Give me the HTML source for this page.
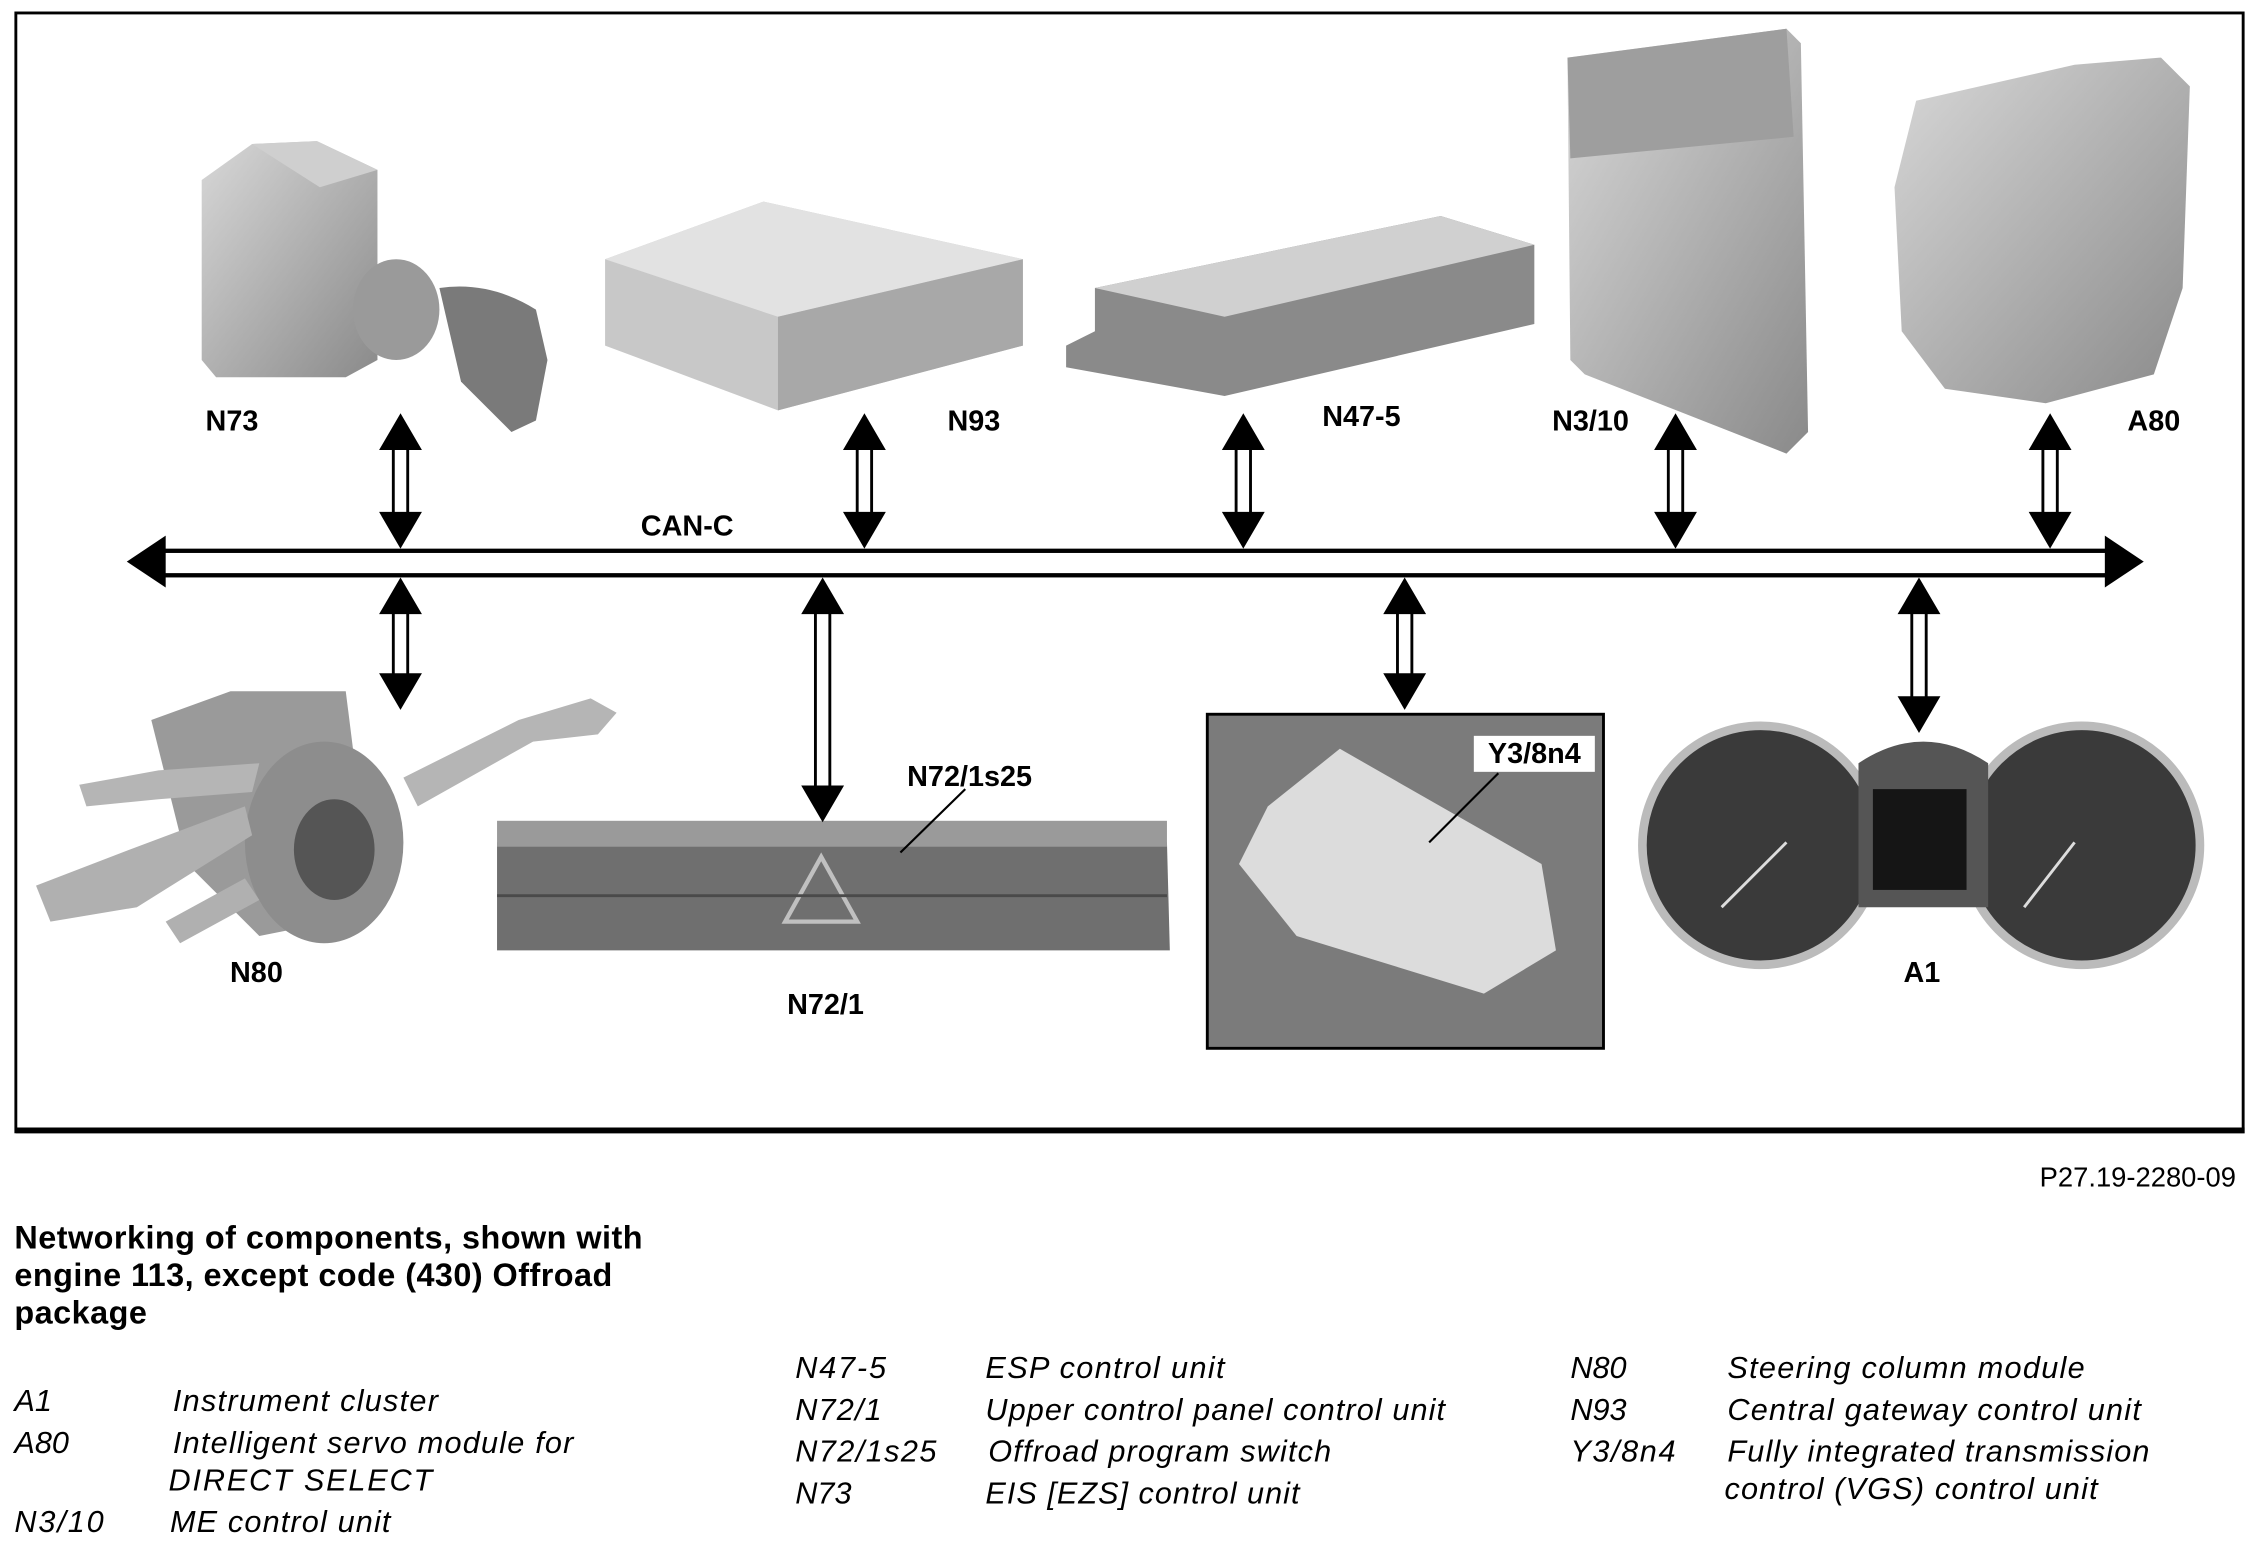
<!DOCTYPE html>
<html><head><meta charset="utf-8"><style>
html,body{margin:0;padding:0;background:#fff;}
svg{display:block;}
.b{font-family:"Liberation Sans",sans-serif;font-weight:bold;font-size:20px;fill:#000;}
.i{font-family:"Liberation Sans",sans-serif;font-style:italic;font-size:21.3px;fill:#000;}
.t{font-family:"Liberation Sans",sans-serif;font-weight:bold;font-size:22.5px;fill:#000;}
</style></head><body>
<svg width="2259" height="1548" viewBox="0 0 1568 1075" preserveAspectRatio="none" xmlns="http://www.w3.org/2000/svg">
<defs>
<linearGradient id="g1" x1="0" y1="0" x2="1" y2="1"><stop offset="0" stop-color="#d8d8d8"/><stop offset="1" stop-color="#8a8a8a"/></linearGradient>
</defs>
<rect x="11" y="9" width="1546" height="777" fill="none" stroke="#000" stroke-width="2"/>
<line x1="11" y1="785" x2="1558" y2="785" stroke="#000" stroke-width="4"/>

<!-- N73 -->
<path d="M140 125 L175 100 L220 98 L262 118 L262 250 L240 262 L150 262 L140 250 Z" fill="url(#g1)"/>
<path d="M175 100 L220 98 L262 118 L222 130 Z" fill="#cfcfcf"/>
<ellipse cx="275" cy="215" rx="30" ry="35" fill="#9a9a9a"/>
<path d="M305 200 Q340 195 372 215 L380 250 L372 292 L355 300 L320 265 Z" fill="#7a7a7a"/>
<!-- N93 -->
<path d="M420 180 L530 140 L710 180 L710 240 L540 285 L420 240 Z" fill="#c8c8c8"/>
<path d="M420 180 L540 220 L710 180 L530 140 Z" fill="#e2e2e2"/>
<path d="M540 220 L540 285 L710 240 L710 180 Z" fill="#a8a8a8"/>
<!-- N47-5 -->
<path d="M760 200 L1000 150 L1065 170 L1065 225 L850 275 L740 255 L740 240 L760 230 Z" fill="#8a8a8a"/>
<path d="M760 200 L1000 150 L1065 170 L850 220 Z" fill="#d0d0d0"/>
<!-- N3/10 -->
<path d="M1088 40 L1240 20 L1250 30 L1255 300 L1240 315 L1100 260 L1090 250 Z" fill="url(#g1)"/>
<path d="M1088 40 L1240 20 L1245 95 L1090 110 Z" fill="#9e9e9e"/>
<!-- A80 -->
<path d="M1330 70 L1440 45 L1500 40 L1520 60 L1515 200 L1495 260 L1420 280 L1350 270 L1320 230 L1315 130 Z" fill="url(#g1)"/>
<!-- N80 -->
<path d="M105 500 L160 480 L240 480 L250 560 L230 640 L180 650 L130 600 Z" fill="#9a9a9a"/>
<ellipse cx="225" cy="585" rx="55" ry="70" fill="#8d8d8d"/>
<ellipse cx="232" cy="590" rx="28" ry="35" fill="#555"/>
<path d="M280 540 L360 500 L410 485 L428 495 L415 510 L370 515 L290 560 Z" fill="#b5b5b5"/>
<path d="M55 545 L110 535 L180 530 L175 550 L110 555 L60 560 Z" fill="#b5b5b5"/>
<path d="M25 615 L90 590 L170 560 L175 580 L95 630 L35 640 Z" fill="#b0b0b0"/>
<path d="M115 640 L170 610 L180 625 L125 655 Z" fill="#b0b0b0"/>
<!-- N72/1 -->
<path d="M345 585 L810 585 L812 660 L345 660 Z" fill="#6f6f6f"/>
<rect x="345" y="570" width="465" height="18" fill="#9a9a9a"/>
<path d="M545 640 L570 595 L595 640 Z" fill="none" stroke="#c0c0c0" stroke-width="3"/>
<path d="M345 622 L810 622" stroke="#4a4a4a" stroke-width="2"/>
<!-- Y3/8n4 box -->
<rect x="838" y="496" width="275" height="232" fill="#7b7b7b" stroke="#000" stroke-width="2"/>
<path d="M880 560 L930 520 L1070 600 L1080 660 L1030 690 L900 650 L860 600 Z" fill="#dcdcdc"/>
<rect x="1023" y="511" width="84" height="25" fill="#fff"/>
<text class="b" x="1065" y="530" text-anchor="middle">Y3/8n4</text>
<line x1="1040" y1="537" x2="992" y2="585" stroke="#000" stroke-width="1.5"/>
<!-- A1 -->
<ellipse cx="1222" cy="587" rx="82" ry="83" fill="#3a3a3a" stroke="#bbb" stroke-width="6"/>
<ellipse cx="1445" cy="587" rx="82" ry="83" fill="#3a3a3a" stroke="#bbb" stroke-width="6"/>
<path d="M1290 530 Q1335 500 1380 530 L1380 630 L1290 630 Z" fill="#555"/>
<rect x="1300" y="548" width="65" height="70" fill="#151515"/>
<line x1="1195" y1="630" x2="1240" y2="585" stroke="#ddd" stroke-width="2"/>
<line x1="1405" y1="630" x2="1440" y2="585" stroke="#ddd" stroke-width="2"/>

<g fill="#000">
<rect x="112" y="381" width="1353" height="3"/>
<rect x="112" y="398" width="1353" height="3"/>
<path d="M88 390 L115 372 L115 408 Z"/>
<path d="M1488 390 L1461 372 L1461 408 Z"/>
</g>
<g fill="#000" stroke="#000">
<g transform="translate(278,0)"><path d="M0 288 L-14 312 L14 312 Z"/><path d="M0 380 L-14 356 L14 356 Z"/><line x1="-5" y1="312" x2="-5" y2="356" stroke-width="2"/><line x1="5" y1="312" x2="5" y2="356" stroke-width="2"/></g>
<g transform="translate(600,0)"><path d="M0 288 L-14 312 L14 312 Z"/><path d="M0 380 L-14 356 L14 356 Z"/><line x1="-5" y1="312" x2="-5" y2="356" stroke-width="2"/><line x1="5" y1="312" x2="5" y2="356" stroke-width="2"/></g>
<g transform="translate(863,0)"><path d="M0 288 L-14 312 L14 312 Z"/><path d="M0 380 L-14 356 L14 356 Z"/><line x1="-5" y1="312" x2="-5" y2="356" stroke-width="2"/><line x1="5" y1="312" x2="5" y2="356" stroke-width="2"/></g>
<g transform="translate(1163,0)"><path d="M0 288 L-14 312 L14 312 Z"/><path d="M0 380 L-14 356 L14 356 Z"/><line x1="-5" y1="312" x2="-5" y2="356" stroke-width="2"/><line x1="5" y1="312" x2="5" y2="356" stroke-width="2"/></g>
<g transform="translate(1423,0)"><path d="M0 288 L-14 312 L14 312 Z"/><path d="M0 380 L-14 356 L14 356 Z"/><line x1="-5" y1="312" x2="-5" y2="356" stroke-width="2"/><line x1="5" y1="312" x2="5" y2="356" stroke-width="2"/></g>
<g transform="translate(278,0)"><path d="M0 402 L-14 426 L14 426 Z"/><path d="M0 492 L-14 468 L14 468 Z"/><line x1="-5" y1="426" x2="-5" y2="468" stroke-width="2"/><line x1="5" y1="426" x2="5" y2="468" stroke-width="2"/></g>
<g transform="translate(571,0)"><path d="M0 402 L-14 426 L14 426 Z"/><path d="M0 570 L-14 546 L14 546 Z"/><line x1="-5" y1="426" x2="-5" y2="546" stroke-width="2"/><line x1="5" y1="426" x2="5" y2="546" stroke-width="2"/></g>
<g transform="translate(975,0)"><path d="M0 402 L-14 426 L14 426 Z"/><path d="M0 492 L-14 468 L14 468 Z"/><line x1="-5" y1="426" x2="-5" y2="468" stroke-width="2"/><line x1="5" y1="426" x2="5" y2="468" stroke-width="2"/></g>
<g transform="translate(1332,0)"><path d="M0 402 L-14 426 L14 426 Z"/><path d="M0 508 L-14 484 L14 484 Z"/><line x1="-5" y1="426" x2="-5" y2="484" stroke-width="2"/><line x1="5" y1="426" x2="5" y2="484" stroke-width="2"/></g>
</g>
<line x1="670" y1="548" x2="625" y2="592" stroke="#000" stroke-width="1.5"/>

<text class="b" x="161" y="299" text-anchor="middle">N73</text>
<text class="b" x="676" y="299" text-anchor="middle">N93</text>
<text class="b" x="945" y="296" text-anchor="middle">N47-5</text>
<text class="b" x="1104" y="299" text-anchor="middle">N3/10</text>
<text class="b" x="1495" y="299" text-anchor="middle">A80</text>
<text class="b" x="477" y="372" text-anchor="middle">CAN-C</text>
<text class="b" x="178" y="682" text-anchor="middle">N80</text>
<text class="b" x="573" y="704" text-anchor="middle">N72/1</text>
<text class="b" x="673" y="546" text-anchor="middle">N72/1s25</text>
<text class="b" x="1334" y="682" text-anchor="middle">A1</text>

<text class="i" x="1552" y="824" text-anchor="end" style="font-style:normal;font-size:19px">P27.19-2280-09</text>

<text class="t" x="10" y="867" textLength="436">Networking of components, shown with</text>
<text class="t" x="10" y="893" textLength="415">engine 113, except code (430) Offroad</text>
<text class="t" x="10" y="919" textLength="92">package</text>

<text class="i" x="10" y="980">A1</text><text class="i" x="120" y="980" textLength="184">Instrument cluster</text>
<text class="i" x="10" y="1009">A80</text><text class="i" x="120" y="1009" textLength="278">Intelligent servo module for</text>
<text class="i" x="117" y="1035" textLength="183">DIRECT SELECT</text>
<text class="i" x="10" y="1064" textLength="62">N3/10</text><text class="i" x="118" y="1064" textLength="153">ME control unit</text>

<text class="i" x="552" y="957" textLength="63">N47-5</text><text class="i" x="684" y="957" textLength="166">ESP control unit</text>
<text class="i" x="552" y="986" textLength="60">N72/1</text><text class="i" x="684" y="986" textLength="319">Upper control panel control unit</text>
<text class="i" x="552" y="1015" textLength="98">N72/1s25</text><text class="i" x="686" y="1015" textLength="238">Offroad program switch</text>
<text class="i" x="552" y="1044">N73</text><text class="i" x="684" y="1044" textLength="218">EIS [EZS] control unit</text>

<text class="i" x="1090" y="957">N80</text><text class="i" x="1199" y="957" textLength="248">Steering column module</text>
<text class="i" x="1090" y="986">N93</text><text class="i" x="1199" y="986" textLength="287">Central gateway control unit</text>
<text class="i" x="1090" y="1015" textLength="73">Y3/8n4</text><text class="i" x="1199" y="1015" textLength="293">Fully integrated transmission</text>
<text class="i" x="1197" y="1041" textLength="259">control (VGS) control unit</text>
</svg>
</body></html>
